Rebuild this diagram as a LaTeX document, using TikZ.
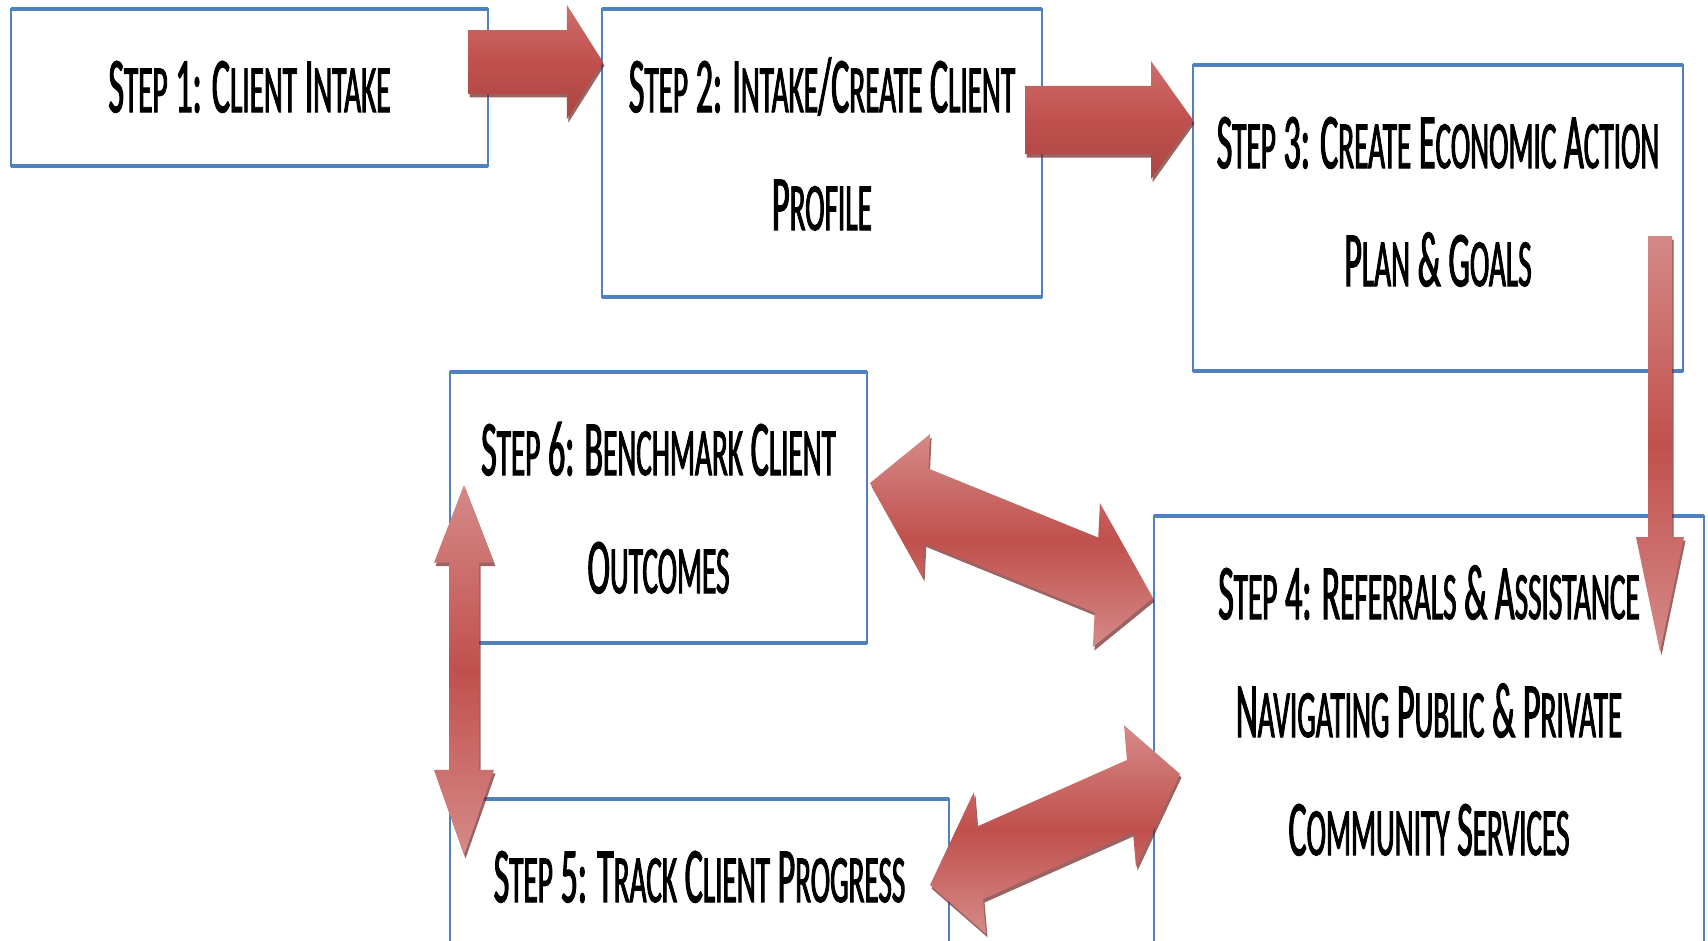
\documentclass[tikz,border=0pt]{standalone}
\usepackage{fontspec}
\newfontfamily\stepfont[FakeStretch=0.43, FakeBold=1.3]{Carlito}
\usetikzlibrary{calc,fit}

\definecolor{boxblue}{HTML}{4F81BD}
\definecolor{arrowred}{HTML}{C0504D}
\definecolor{arrowlight}{HTML}{D58A88}
\definecolor{arrowsoft}{HTML}{CD6F6C}
\definecolor{arrowdark}{HTML}{6E2220}

% small capitals: reduced-size upper case letters
\newcommand\lc[1]{{\fontsize{68}{118}\selectfont #1}}
% fixes the height of the first line of every label
\newcommand\firstline{\rule{0pt}{62pt}}

% single block arrow: style, tail, tip, half-width vector, shaft fraction, head base
\newcommand\onewaypath[6]{%
  \path[#1] ($(#2)+#5*(#4)$) -- ($(#2)!#6!(#3)+#5*(#4)$) -- ($(#2)!#6!(#3)+(#4)$)
    -- (#3) -- ($(#2)!#6!(#3)-(#4)$) -- ($(#2)!#6!(#3)-#5*(#4)$) -- ($(#2)-#5*(#4)$) -- cycle;}
% double block arrow: style, tip, tip, half-width vector, shaft fraction, head bases
\newcommand\twowaypath[7]{%
  \path[#1] (#2) -- ($(#2)!#6!(#3)+(#4)$) -- ($(#2)!#6!(#3)+#5*(#4)$)
    -- ($(#2)!#7!(#3)+#5*(#4)$) -- ($(#2)!#7!(#3)+(#4)$) -- (#3)
    -- ($(#2)!#7!(#3)-(#4)$) -- ($(#2)!#7!(#3)-#5*(#4)$)
    -- ($(#2)!#6!(#3)-#5*(#4)$) -- ($(#2)!#6!(#3)-(#4)$) -- cycle;}
\newcommand\onewayarrow[6]{%
  \onewaypath{arrowshadow}{#2}{#3}{#4}{#5}{#6}%
  \onewaypath{#1}{#2}{#3}{#4}{#5}{#6}}
\newcommand\twowayarrow[7]{%
  \twowaypath{arrowshadow}{#2}{#3}{#4}{#5}{#6}{#7}%
  \twowaypath{#1}{#2}{#3}{#4}{#5}{#6}{#7}}

\tikzset{
  stepbox/.style={draw=boxblue, line width=2.5pt, inner sep=0pt, outer sep=0pt, fill=white},
  boxedge/.style={draw=boxblue, line width=4pt},
  steptext/.style={align=center, inner sep=0pt, text=black,
    font=\stepfont\fontsize{79}{118}\selectfont},
  arrowshadow/.style={fill=arrowdark, fill opacity=0.7, transform canvas={shift={(1.5,3.5)}}},
  arrowacross/.style={top color=arrowsoft, bottom color=arrowred!88!black, middle color=arrowred},
  arrowalong/.style={top color=arrowlight, bottom color=arrowlight, middle color=arrowred},
}

\begin{document}
\begin{tikzpicture}[x=1pt, y=-1pt]
\useasboundingbox (0,0) rectangle (1708,940);
\clip (0,0) rectangle (1708,940);

% process boxes
\node[stepbox, fit={(11,9) (488,166)}] (s1) {};
\node[stepbox, fit={(602,9) (1042,297)}] (s2) {};
\node[stepbox, fit={(1193,65) (1683,371)}] (s3) {};
\node[stepbox, fit={(1154,516) (1704,980)}] (s4) {};
\node[stepbox, fit={(450,799) (949,980)}] (s5) {};
\node[stepbox, fit={(450,372) (867,643)}] (s6) {};
\foreach \b in {s1,s2,s3,s4,s5,s6}
  \draw[boxedge] (\b.north west) -- (\b.north east) (\b.south west) -- (\b.south east);

% labels
\node[steptext, anchor=north] (t1) at ($(s1.north)+(0,41)$)
  {\firstline S\lc{TEP} 1: C\lc{LIENT} I\lc{NTAKE}};
\node[steptext, anchor=north] (t2) at ($(s2.north)+(0,41)$)
  {\firstline S\lc{TEP} 2: I\lc{NTAKE}/C\lc{REATE} C\lc{LIENT}\\P\lc{ROFILE}};
\node[steptext, anchor=north] (t3) at ($(s3.north)+(0,41)$)
  {\firstline S\lc{TEP} 3: C\lc{REATE} E\lc{CONOMIC} A\lc{CTION}\\P\lc{LAN} \& G\lc{OALS}};
\node[steptext, anchor=north] (t4) at ($(s4.north)+(0,41)$)
  {\firstline S\lc{TEP} 4: R\lc{EFERRALS} \& A\lc{SSISTANCE}\\N\lc{AVIGATING} P\lc{UBLIC} \& P\lc{RIVATE}\\C\lc{OMMUNITY} S\lc{ERVICES}};
\node[steptext, anchor=north] (t5) at ($(s5.north)+(0,41)$)
  {\firstline S\lc{TEP} 5: T\lc{RACK} C\lc{LIENT} P\lc{ROGRESS}};
\node[steptext, anchor=north] (t6) at ($(s6.north)+(0,41)$)
  {\firstline S\lc{TEP} 6: B\lc{ENCHMARK} C\lc{LIENT}\\O\lc{UTCOMES}};

% arrow end points
\coordinate (a12s) at ($(s1.north east)+(-20,53)$);
\coordinate (a12e) at ($(s2.north west)+(1,53)$);
\coordinate (a23s) at ($(s2.north east)+(-17,111)$);
\coordinate (a23e) at ($(s3.north west)+(0,55)$);
\coordinate (a34s) at ($(s3.south east)+(-23,-135)$);
\coordinate (a34e) at ($(s4.north east)+(-44,136)$);
\coordinate (a64s) at ($(s6.north east)+(3,111)$);
\coordinate (a64e) at ($(s4.north west)+(-1,82)$);
\coordinate (a54s) at ($(s5.north east)+(-19,86)$);
\coordinate (a54e) at ($(s4.north west)+(26,258)$);
\coordinate (a65s) at ($(s6.north west)+(14,113)$);
\coordinate (a65e) at ($(s5.north west)+(14,56)$);

% block arrows
\onewayarrow{arrowacross}{a12s}{a12e}{0,-57}{0.56}{0.733}
\onewayarrow{arrowacross}{a23s}{a23e}{0,-59}{0.58}{0.75}
\onewayarrow{arrowalong}{a34s}{a34e}{24,0}{0.5}{0.724}
\twowayarrow{arrowalong}{a64s}{a64e}{3.5,-72}{0.52}{0.2}{0.8}
\twowayarrow{arrowalong}{a54s}{a54e}{-6,-71}{0.51}{0.2}{0.8}
\twowayarrow{arrowalong}{a65s}{a65e}{30,0}{0.5}{0.21}{0.77}
\end{tikzpicture}
\end{document}
